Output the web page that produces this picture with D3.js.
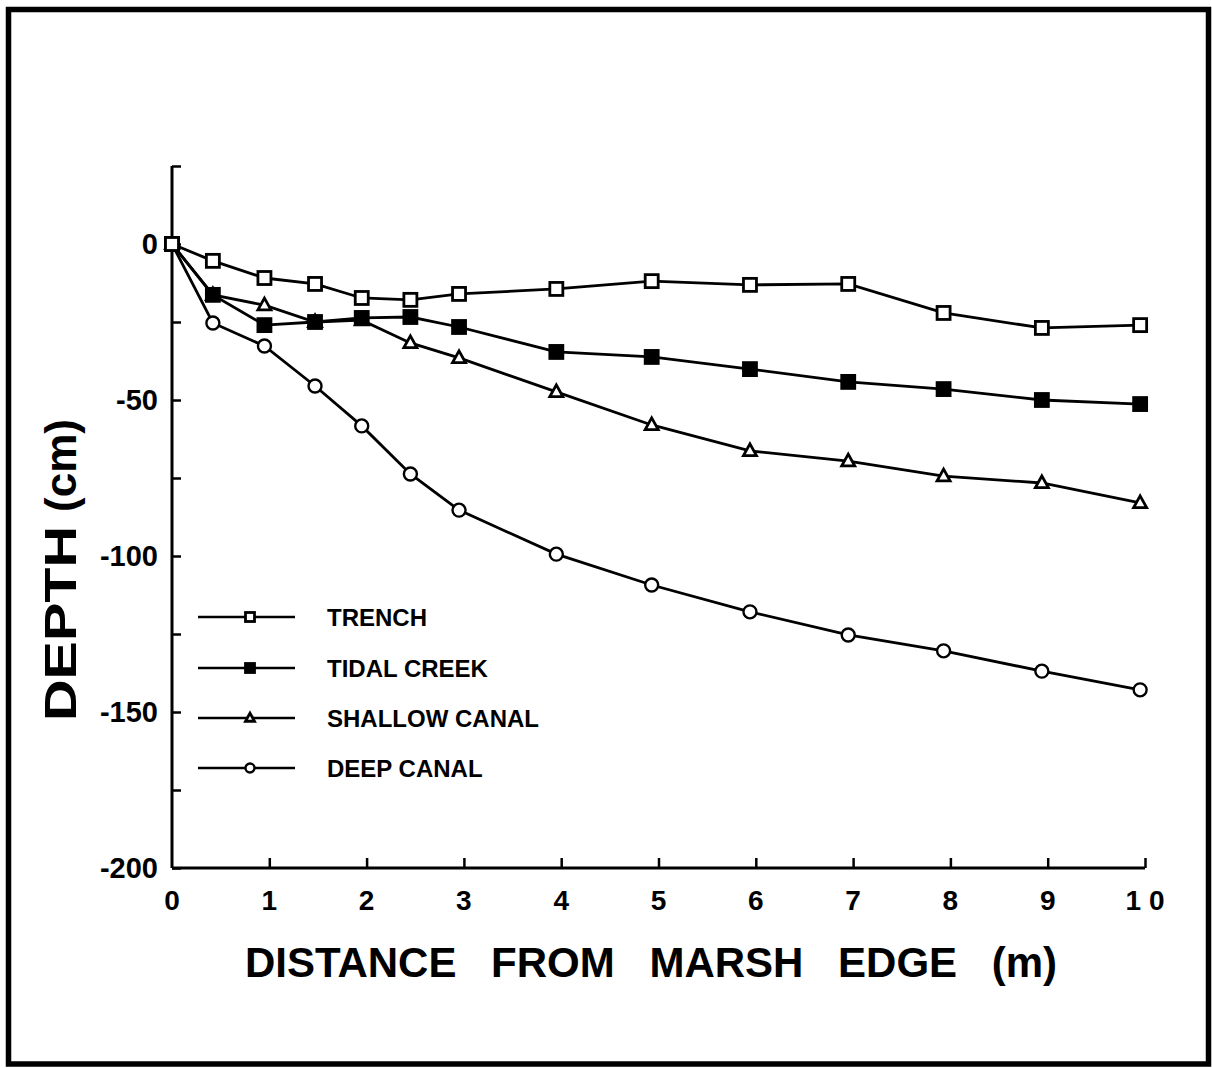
<!DOCTYPE html>
<html>
<head>
<meta charset="utf-8">
<script src="https://cdn.jsdelivr.net/npm/d3@7"></script>
<style>
  body { margin: 0; background: #fff; }
  text { font-family: "Liberation Sans", Arial, Helvetica, sans-serif; fill: #000; }
</style>
</head>
<body>
<div id="chart"></div>
<script>
var width = 1212,
    height = 1068;

// distance from marsh edge (m)
var distance = [0, 0.42, 0.95, 1.47, 1.95, 2.45, 2.95, 3.95, 4.93, 5.94, 6.95, 7.93, 8.94, 9.95];
// depth (cm)
var trench       = [0, -5.4, -10.9, -12.8, -17.3, -17.9, -16.0, -14.4, -11.9, -13.1, -12.8, -22.1, -26.9, -26.0];
var tidalCreek   = [0, -16.3, -26.0, -25.0, -23.7, -23.4, -26.6, -34.6, -36.2, -40.1, -44.2, -46.5, -50.0, -51.3];
var shallowCanal = [0, -16.3, -19.6, -25.0, -24.4, -31.7, -36.5, -47.4, -58.0, -66.3, -69.6, -74.4, -76.6, -83.0];
var deepCanal    = [0, -25.3, -32.7, -45.5, -58.3, -73.7, -85.3, -99.4, -109.3, -117.9, -125.3, -130.4, -136.9, -142.9];

var seriesNames = ['TRENCH', 'TIDAL CREEK', 'SHALLOW CANAL', 'DEEP CANAL'];
var seriesMarks = ['openSquare', 'filledSquare', 'triangle', 'circle'];

var xTickValues = [0, 1, 2, 3, 4, 5, 6, 7, 8, 9, 10];
var xTickLabels = ['0', '1', '2', '3', '4', '5', '6', '7', '8', '9', '1 0'];
var yTickValues = [25, 0, -25, -50, -75, -100, -125, -150, -175, -200];
var yLabelValues = [0, -50, -100, -150, -200];

var series = [trench, tidalCreek, shallowCanal, deepCanal].map(function(vals, i) {
  return {
    name: seriesNames[i],
    mark: seriesMarks[i],
    values: vals.map(function(v, j) { return { x: distance[j], y: v }; })
  };
});

var x = d3.scaleLinear().domain([0, 10]).range([172, 1145]);
var y = d3.scaleLinear().domain([-200, 25]).range([868, 166]);

var svg = d3.select('#chart').append('svg')
    .attr('width', width)
    .attr('height', height);

// frame
svg.append('rect')
    .attr('x', 8.5).attr('y', 9.5)
    .attr('width', 1200).attr('height', 1054.5)
    .attr('fill', 'none')
    .attr('stroke', '#000')
    .attr('stroke-width', 5.5);

// y axis
var yAxis = svg.append('g')
    .attr('transform', 'translate(' + x(0) + ',0)')
    .call(d3.axisRight(y).tickValues(yTickValues).tickSize(9).tickFormat(''));
yAxis.select('.domain').attr('stroke-width', 3).attr('d', 'M0,' + y(25) + 'V' + y(-200));
yAxis.selectAll('.tick line').attr('stroke-width', 2.5);

svg.selectAll('.y-label')
    .data(yLabelValues)
    .enter().append('text')
    .attr('class', 'y-label')
    .attr('x', 158)
    .attr('y', function(d) { return y(d) + 10; })
    .attr('text-anchor', 'end')
    .attr('font-size', 29)
    .attr('font-weight', 'bold')
    .text(function(d) { return d; });

// x axis
var xAxis = svg.append('g')
    .attr('transform', 'translate(0,' + y(-200) + ')')
    .call(d3.axisTop(x).tickValues(xTickValues.slice(1)).tickSize(10).tickFormat(''));
xAxis.select('.domain').attr('stroke-width', 3).attr('d', 'M' + x(0) + ',0H' + x(10));
xAxis.selectAll('.tick line').attr('stroke-width', 2.5);

svg.selectAll('.x-label')
    .data(xTickValues)
    .enter().append('text')
    .attr('class', 'x-label')
    .attr('x', function(d) { return x(d); })
    .attr('y', 910)
    .attr('text-anchor', 'middle')
    .attr('font-size', 28)
    .attr('font-weight', 'bold')
    .style('white-space', 'pre')
    .text(function(d, i) { return xTickLabels[i]; });

// axis titles
svg.append('text')
    .attr('x', 651)
    .attr('y', 977)
    .attr('text-anchor', 'middle')
    .attr('font-size', 42)
    .attr('font-weight', 'bold')
    .attr('word-spacing', 23)
    .text('DISTANCE FROM MARSH EDGE (m)');

var yTitle = svg.append('text')
    .attr('transform', 'translate(76,570) rotate(-90)')
    .attr('text-anchor', 'middle')
    .attr('font-size', 44)
    .attr('font-weight', 'bold');
yTitle.append('tspan')
    .attr('textLength', 195)
    .attr('lengthAdjust', 'spacingAndGlyphs')
    .text('DEPTH');
yTitle.append('tspan').attr('dx', 14).text('(cm)');

// lines
var line = d3.line()
    .x(function(d) { return x(d.x); })
    .y(function(d) { return y(d.y); });

svg.selectAll('.series-line')
    .data(series)
    .enter().append('path')
    .attr('class', 'series-line')
    .attr('d', function(d) { return line(d.values); })
    .attr('fill', 'none')
    .attr('stroke', '#000')
    .attr('stroke-width', 2.8);

function drawMark(g, type, cx, cy, s) {
  if (type === 'openSquare' || type === 'filledSquare') {
    g.append('rect')
      .attr('x', cx - s / 2).attr('y', cy - s / 2)
      .attr('width', s).attr('height', s)
      .attr('fill', type === 'filledSquare' ? '#000' : '#fff')
      .attr('stroke', '#000').attr('stroke-width', 2.8);
  } else if (type === 'triangle') {
    var h = s * 0.9;
    g.append('path')
      .attr('d', 'M' + cx + ',' + (cy - h * 0.6) + 'L' + (cx + s / 2) + ',' + (cy + h * 0.4) + 'L' + (cx - s / 2) + ',' + (cy + h * 0.4) + 'Z')
      .attr('fill', '#fff')
      .attr('stroke', '#000').attr('stroke-width', 2.8);
  } else {
    g.append('circle')
      .attr('cx', cx).attr('cy', cy).attr('r', s / 2)
      .attr('fill', '#fff')
      .attr('stroke', '#000').attr('stroke-width', 2.4);
  }
}

// markers, drawn from the back series forward
series.slice().reverse().forEach(function(s) {
  var g = svg.append('g');
  s.values.forEach(function(d) {
    drawMark(g, s.mark, x(d.x), y(d.y), 13);
  });
});

// legend
var legendY = [617, 668, 718, 768];
var legend = svg.selectAll('.legend')
    .data(series)
    .enter().append('g')
    .attr('class', 'legend')
    .attr('transform', function(d, i) { return 'translate(0,' + legendY[i] + ')'; });

legend.append('line')
    .attr('x1', 198).attr('x2', 295)
    .attr('y1', 0).attr('y2', 0)
    .attr('stroke', '#000')
    .attr('stroke-width', 2.5);

legend.each(function(d) {
  drawMark(d3.select(this), d.mark, 250, 0, 9);
});

legend.append('text')
    .attr('x', 327)
    .attr('y', 9)
    .attr('font-size', 24)
    .attr('font-weight', 'bold')
    .text(function(d) { return d.name; });
</script>
</body>
</html>
